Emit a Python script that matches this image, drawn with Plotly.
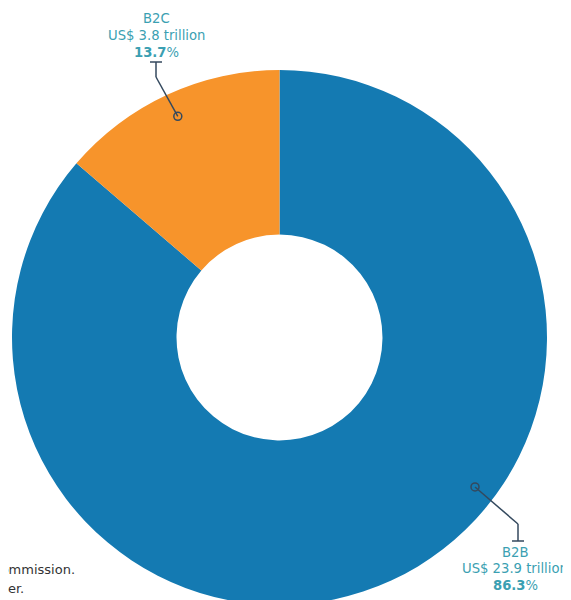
import math
import plotly.graph_objects as go

# ---- data ----
segments = ["B2C", "B2B"]
values_trillion = [3.8, 23.9]
value_labels = ["US$ 3.8 trillion", "US$ 23.9 trillion"]
share_labels = ["13.7", "86.3"]
colors = ["#F7942B", "#147AB2"]
note_lines = ["Source: UNCTAD estimates based on data from the European Commission.",
              "Note: Figures are based on national sources; see the annex for further detail. Values are rounded, see the text for further."]

W, H = 571, 600
OFF = 8  # page body margin: figure drawn at (8, 8) in the window
ML, MR, MT, MB = 4, 32, 62, 3
PW, PH = W - ML - MR, H - MT - MB
R = min(PW, PH) / 2
CX, CY = OFF + ML + PW / 2, OFF + MT + PH / 2   # in window pixels

def px2paper(sx, sy):
    fx, fy = sx - OFF, sy - OFF
    return (fx - ML) / PW, 1 - (fy - MT) / PH

def polar(frac_r, ang_deg):
    # angle counterclockwise from 12 o'clock, window pixels
    a = math.radians(ang_deg)
    return CX - frac_r * R * math.sin(a), CY - frac_r * R * math.cos(a)

# clockwise from 12 o'clock with B2B first leaves B2C just left of 12 o'clock
fig = go.Figure(go.Pie(
    labels=segments[::-1], values=values_trillion[::-1],
    hole=0.385, sort=False, direction="clockwise", rotation=0,
    marker=dict(colors=colors[::-1], line=dict(width=0)),
    textinfo="none", hoverinfo="label+value+percent", showlegend=False,
))

total = sum(values_trillion)
b2c_mid = values_trillion[0] / total * 360 / 2
anchors = [polar(0.91, b2c_mid), polar(0.92, 232.6)]

text_color = "#3B9FB2"
line_color = "#34495E"
FONT = "DejaVu Sans, Verdana, sans-serif"
shapes, annots = [], []

def seg(p1, p2):
    x0, y0 = px2paper(*p1); x1, y1 = px2paper(*p2)
    shapes.append(dict(type="line", xref="paper", yref="paper", x0=x0, y0=y0, x1=x1, y1=y1,
                       line=dict(color=line_color, width=1.5)))

def circ(p, r=4):
    x0, y0 = px2paper(p[0] - r, p[1] + r); x1, y1 = px2paper(p[0] + r, p[1] - r)
    shapes.append(dict(type="circle", xref="paper", yref="paper", x0=x0, y0=y0, x1=x1, y1=y1,
                       line=dict(color=line_color, width=1.5), fillcolor="rgba(0,0,0,0)"))

# B2C leader
a = anchors[0]
seg(a, (156, 77)); seg((156, 77), (156, 62)); seg((150, 62), (162, 62)); circ(a)
# B2B leader
a = anchors[1]
seg(a, (518, 524)); seg((518, 524), (518, 541)); seg((512, 541), (524, 541)); circ(a)

label_x = [156, 515]
label_y = [(19, 35.5, 52), (552, 568.5, 585)]
for i in range(2):
    lines = [segments[i], value_labels[i], f"<b>{share_labels[i]}</b>%"]
    for txt, yy in zip(lines, label_y[i]):
        lx, ly = px2paper(label_x[i], yy)
        annots.append(dict(
            xref="paper", yref="paper", x=lx, y=ly, xanchor="center", yanchor="middle",
            text=txt, showarrow=False,
            font=dict(family=FONT, size=13.2, color=text_color),
        ))

# source notes at bottom left (cut off by the left edge, as in the reference)
for txt, (rx, yy) in zip(note_lines, [(77, 569), (26, 588)]):
    nx, ny = px2paper(rx, yy)
    annots.append(dict(xref="paper", yref="paper", x=nx, y=ny, xanchor="right", yanchor="middle",
                       text=txt, showarrow=False,
                       font=dict(family=FONT, size=13, color="#333333")))

fig.update_layout(
    width=W, height=H, margin=dict(l=ML, r=MR, t=MT, b=MB),
    paper_bgcolor="white", plot_bgcolor="white",
    shapes=shapes, annotations=annots,
)
fig.write_html("out.html")
